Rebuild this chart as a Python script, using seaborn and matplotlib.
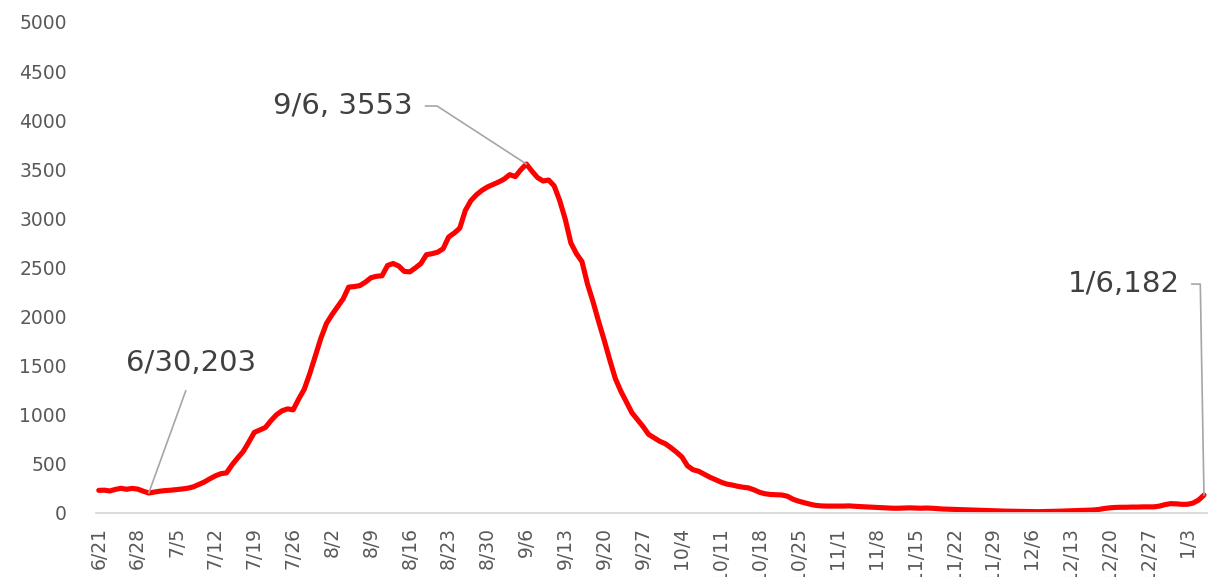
import numpy as np
import matplotlib
matplotlib.use('Agg')
import matplotlib.pyplot as plt
import seaborn as sns

# daily values, 6/21 .. 1/6 (one value per day)
cases = [
    230, 232, 224, 240, 251, 241, 250, 243, 222, 203,
    212, 222, 228, 232, 238, 244, 252, 265, 290, 315,
    348, 378, 400, 408, 490, 560, 625, 720, 820, 845,
    870, 940, 1000, 1040, 1060, 1050, 1160, 1260, 1420, 1600,
    1780, 1930, 2020, 2100, 2180, 2300, 2305, 2315, 2350, 2395,
    2410, 2415, 2520, 2540, 2515, 2460, 2455, 2495, 2540, 2630,
    2640, 2655, 2690, 2810, 2850, 2900, 3080, 3180, 3240, 3285,
    3320, 3345, 3370, 3400, 3445, 3425, 3495, 3553, 3480, 3415,
    3380, 3390, 3330, 3180, 2990, 2750, 2640, 2560, 2330, 2150,
    1950, 1760, 1560, 1370, 1240, 1130, 1020, 950, 880, 800,
    765, 730, 705, 665, 620, 570, 480, 440, 425, 395,
    365, 340, 315, 295, 285, 272, 262, 255, 235, 210,
    195, 188, 185, 183, 170, 140, 120, 105, 90, 78,
    72, 70, 70, 69, 70, 72, 68, 65, 62, 60,
    56, 52, 50, 48, 48, 50, 52, 50, 48, 50,
    48, 44, 40, 38, 36, 35, 33, 30, 28, 26,
    24, 22, 20, 19, 18, 17, 15, 14, 13, 13,
    14, 15, 17, 18, 20, 22, 24, 26, 28, 30,
    35, 45, 52, 56, 58, 58, 60, 60, 62, 62,
    62, 70, 85, 95, 93, 88, 88, 100, 130, 182,
]

tick_labels = ['6/21', '6/28', '7/5', '7/12', '7/19', '7/26', '8/2', '8/9',
               '8/16', '8/23', '8/30', '9/6', '9/13', '9/20', '9/27', '10/4',
               '10/11', '10/18', '10/25', '11/1', '11/8', '11/15', '11/22',
               '11/29', '12/6', '12/13', '12/20', '12/27', '1/3']

# labelled points: (day index, text)
callouts = [(9, '6/30,203'), (77, '9/6, 3553'), (199, '1/6,182')]

sns.set_theme(style='white')
plt.rcParams['font.family'] = ['DejaVu Sans']

days = np.arange(len(cases))

fig = plt.figure(figsize=(12.26, 5.77), dpi=100)
ax = fig.add_axes([0.0783, 0.111, 0.906, 0.851])

sns.lineplot(x=days, y=cases, color='#FF0000', linewidth=3.7, ax=ax)

ax.set_xlim(-0.5, len(cases) - 0.5)
ax.set_ylim(0, 5000)
ax.set_yticks(np.arange(0, 5001, 500))
ax.set_xticks(days[::7])
ax.set_xticklabels(tick_labels, rotation=90)
ax.tick_params(axis='x', length=0, pad=10, labelsize=13.5, colors='#595959')
ax.tick_params(axis='y', length=0, pad=21, labelsize=13.5, colors='#595959')
for lab in ax.get_yticklabels():
    lab.set_horizontalalignment('right')

for side in ['left', 'right', 'top']:
    ax.spines[side].set_visible(False)
ax.spines['bottom'].set_color('#D9D9D9')
ax.spines['bottom'].set_linewidth(1.3)
ax.set_xlabel('')
ax.set_ylabel('')

lead = dict(arrowstyle='-', color='#A6A6A6', lw=1.2, shrinkB=0)

d, txt = callouts[0]
ax.annotate(txt, xy=(d, cases[d]), xytext=(42, 130), textcoords='offset pixels',
            ha='center', va='center', fontsize=21, color='#404040',
            arrowprops=dict(lead, shrinkA=8, relpos=(0.5, 0.0),
                            connectionstyle='arc3,rad=0'))

d, txt = callouts[1]
ax.annotate(txt, xy=(d, cases[d]), xytext=(-114, 58), textcoords='offset pixels',
            ha='right', va='center', fontsize=21, color='#404040',
            arrowprops=dict(lead, shrinkA=7, relpos=(1.0, 0.5),
                            connectionstyle='angle,angleA=0,angleB=147,rad=0'))

d, txt = callouts[2]
ax.annotate(txt, xy=(d, cases[d]), xytext=(-24, 211), textcoords='offset pixels',
            ha='right', va='center', fontsize=21, color='#404040',
            arrowprops=dict(lead, shrinkA=6, relpos=(1.0, 0.5),
                            connectionstyle='angle,angleA=0,angleB=91,rad=0'))

fig.savefig('out.png', dpi=100, facecolor='white')
